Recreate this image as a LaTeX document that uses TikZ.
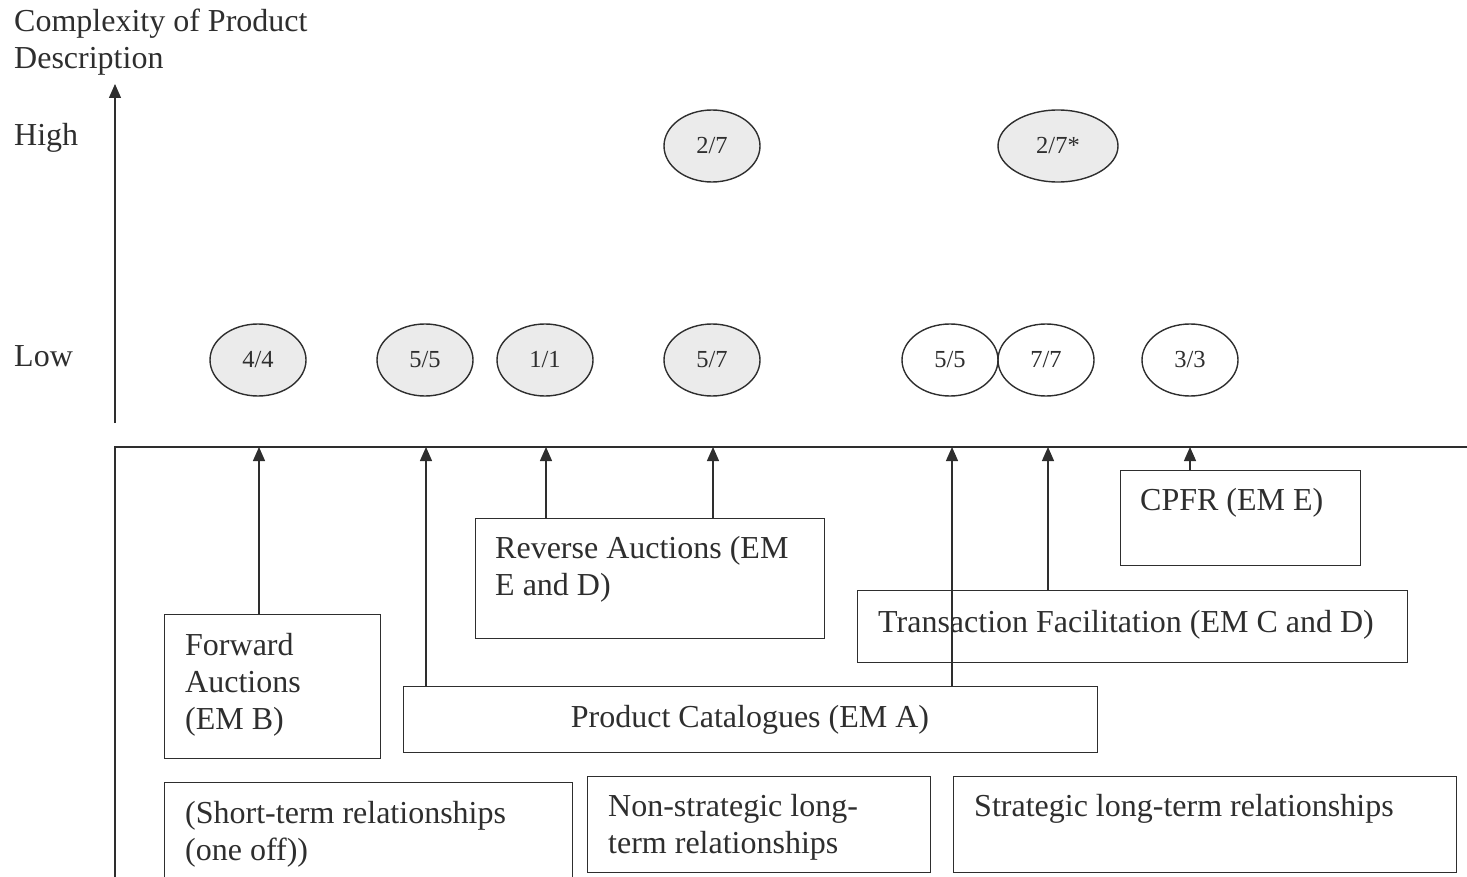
\documentclass[tikz,border=0pt]{standalone}
\usepackage{fontspec}
\setmainfont{Liberation Serif}
\usetikzlibrary{arrows.meta,shapes.geometric}
\definecolor{ink}{HTML}{2E2E2E}
\definecolor{shade}{HTML}{EBEBEB}
\begin{document}
\begin{tikzpicture}[x=1pt,y=-1pt,
  every node/.style={text=ink, font=\fontsize{32}{37}\selectfont},
  box/.style={draw=ink, line width=1.4pt, rectangle, inner sep=0pt, anchor=north west},
  bubble/.style={draw=ink, line width=1.4pt, ellipse, minimum width=96pt, minimum height=72pt,
    inner sep=0pt, font=\fontsize{24.5}{27}\selectfont},
  filled/.style={fill=shade},
  link/.style={draw=ink, line width=1.3pt, -{Triangle[width=12pt,length=14pt]}},
  txt/.style={anchor=base west, inner sep=0pt}]
\useasboundingbox (0,0) rectangle (1467,877);

% vertical axis and its labels
\node[txt] (ytitleA) at (14,32) {Complexity of Product};
\node[txt] (ytitleB) at (14,69) {Description};
\node[txt] (high) at (14,146) {High};
\node[txt] (low) at (14,366) {Low};
\coordinate (axisfoot) at (115,423);
\coordinate (axistop) at (115,84);
\draw[link] (axisfoot) -- (axistop);

% counts per mechanism
\node[bubble, filled] (h1) at (712,146) {2/7};
\node[bubble, filled, minimum width=120pt] (h2) at (1058,146) {2/7*};
\node[bubble, filled] (l1) at (258,360) {4/4};
\node[bubble, filled] (l2) at (425,360) {5/5};
\node[bubble, filled] (l3) at (545,360) {1/1};
\node[bubble, filled] (l4) at (712,360) {5/7};
\node[bubble] (l5) at (950,360) {5/5};
\node[bubble] (l6) at (1046,360) {7/7};
\node[bubble] (l7) at (1190,360) {3/3};

% frame
\coordinate (fbl) at (115,877);
\coordinate (ftl) at (115,447);
\coordinate (ftr) at (1467,447);
\draw[ink, line width=1.4pt] (fbl) -- (ftl) -- (ftr);

% mechanism boxes
\node[box, minimum width=216pt, minimum height=144pt] (fwd) at (164,614) {};
\node[txt] (fwdA) at (185,655) {Forward};
\node[txt] (fwdB) at (185,692) {Auctions};
\node[txt] (fwdC) at (185,729) {(EM B)};

\node[box, minimum width=349pt, minimum height=120pt] (rev) at (475,518) {};
\node[txt] (revA) at (495,558) {Reverse Auctions (EM};
\node[txt] (revB) at (495,595) {E and D)};

\node[box, minimum width=550pt, minimum height=72pt] (trans) at (857,590) {};
\node[txt] (transA) at (878,632) {Transaction Facilitation (EM C and D)};

\node[box, minimum width=240pt, minimum height=95pt] (cpfr) at (1120,470) {};
\node[txt] (cpfrA) at (1140,510) {CPFR (EM E)};

\node[box, minimum width=694pt, minimum height=66pt] (cat) at (403,686) {};
\node[anchor=base, inner sep=0pt] (catA) at (750,727) {Product Catalogues (EM A)};

% relationship types
\node[box, minimum width=408pt, minimum height=110pt] (short) at (164,782) {};
\node[txt] (shortA) at (185,823) {(Short-term relationships};
\node[txt] (shortB) at (185,860) {(one off))};

\node[box, minimum width=343pt, minimum height=96pt] (nonstr) at (587,776) {};
\node[txt] (nonstrA) at (608,816) {Non-strategic long-};
\node[txt] (nonstrB) at (608,853) {term relationships};

\node[box, minimum width=503pt, minimum height=96pt] (strat) at (953,776) {};
\node[txt] (stratA) at (974,816) {Strategic long-term relationships};

% links from mechanisms up to the frame
\coordinate (t1) at (259,447);
\coordinate (t2) at (426,447);
\coordinate (t3) at (546,447);
\coordinate (t4) at (713,447);
\coordinate (t5) at (952,447);
\coordinate (t6) at (1048,447);
\coordinate (t7) at (1190,447);
\draw[link] (fwd.north -| t1) -- (t1);
\draw[link] (cat.north -| t2) -- (t2);
\draw[link] (rev.north -| t3) -- (t3);
\draw[link] (rev.north -| t4) -- (t4);
\draw[link] (cat.north -| t5) -- (t5);
\draw[link] (trans.north -| t6) -- (t6);
\draw[link] (cpfr.north -| t7) -- (t7);
\end{tikzpicture}
\end{document}
